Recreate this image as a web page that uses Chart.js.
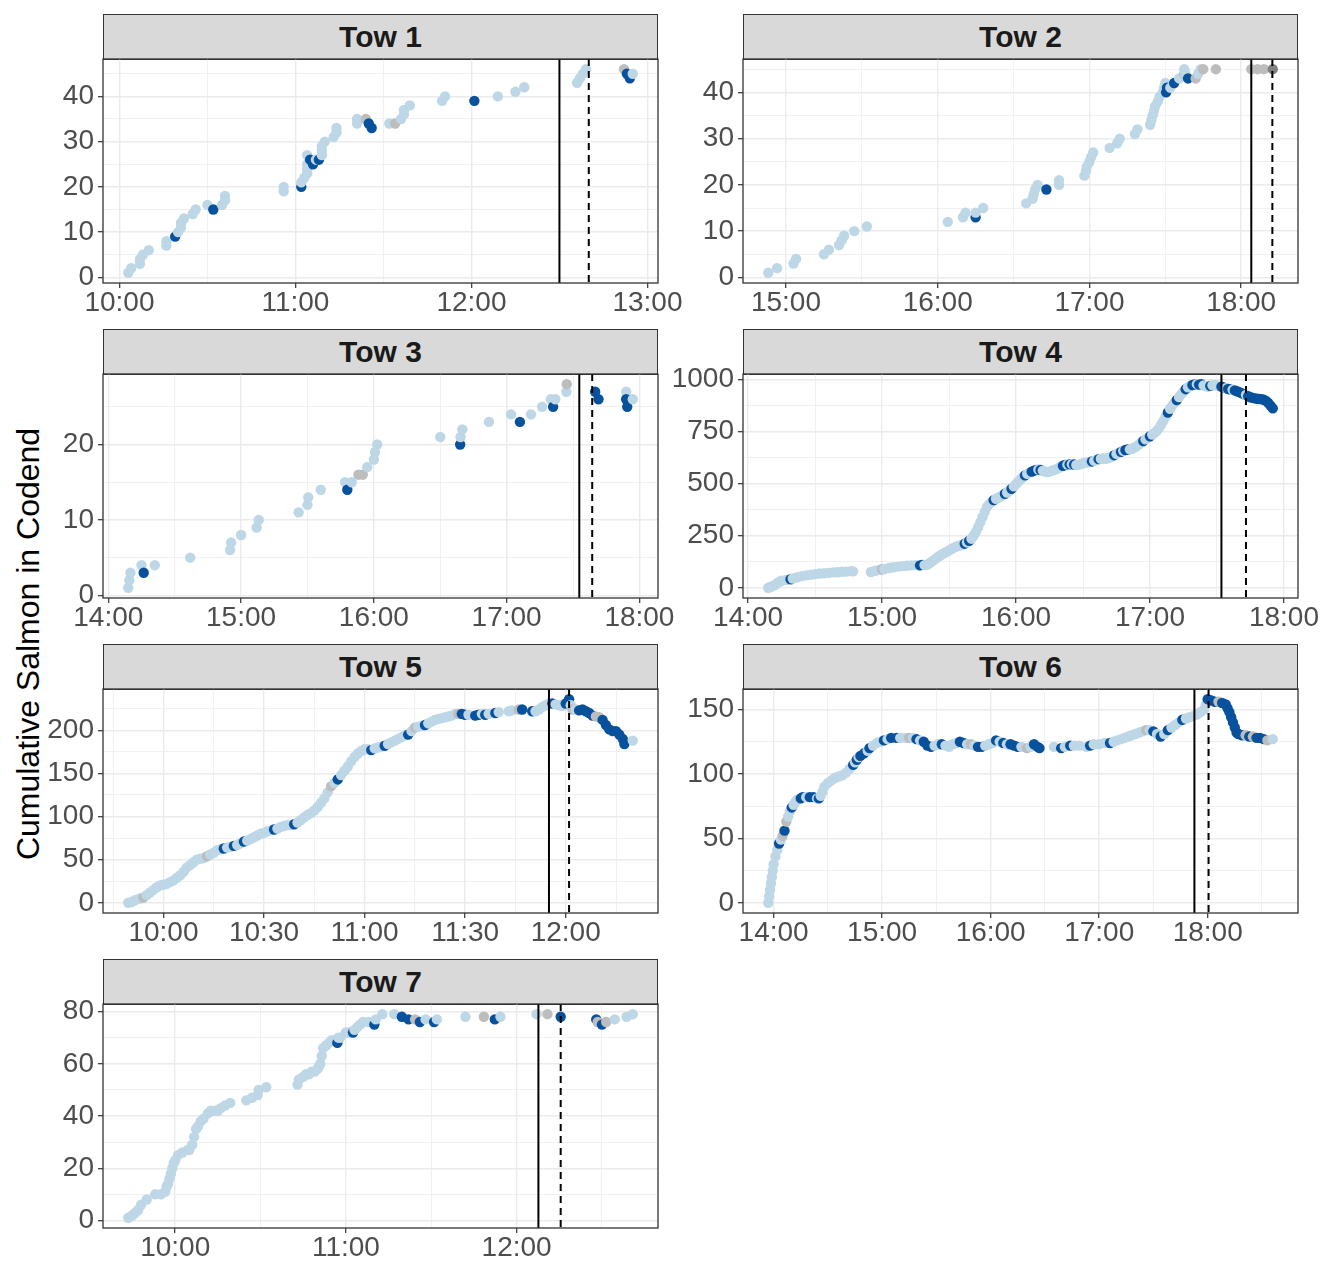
<!DOCTYPE html>
<html>
<head>
<meta charset="utf-8">
<title>Cumulative Salmon in Codend</title>
<script src="https://cdn.jsdelivr.net/npm/chart.js@4/dist/chart.umd.min.js"></script>
<style>
  html, body { margin: 0; padding: 0; background: #ffffff; overflow: hidden; }
  body { width: 1322px; height: 1262px; position: relative; font-family: "Liberation Sans", Arial, sans-serif; }
  .strip {
    position: absolute; box-sizing: border-box; border: 1.3px solid #333333;
    background: #D9D9D9; color: #1A1A1A; font-weight: bold; font-size: 30px;
    display: flex; align-items: center; justify-content: center;
  }
  canvas { position: absolute; }
  .ytitle {
    position: absolute; left: 28px; top: 644px; white-space: nowrap;
    font-size: 32px; color: #000000;
    transform: translate(-50%, -50%) rotate(-90deg);
  }
</style>
</head>
<body>
<div class="ytitle">Cumulative Salmon in Codend</div>
<script>
// ---- data: [clock time, cumulative count, category] per tow ----
// category: 0 = standard, 1 = flagged, 2 = uncertain, 3 = unresolved
const towNames = ['Tow 1', 'Tow 2', 'Tow 3', 'Tow 4', 'Tow 5', 'Tow 6', 'Tow 7'];

const tow1 = [
  ["10:03",1,0],["10:04",2,0],["10:07",3,0],["10:07",4,0],["10:08",5,0],["10:10",6,0],
  ["10:16",7,0],["10:16",8,0],["10:19",9,1],["10:20",10,0],["10:21",11,0],["10:21",12,0],
  ["10:22",13,0],["10:25",14,0],["10:26",15,0],["10:30",16,0],["10:32",15,1],["10:35",16,0],
  ["10:36",17,0],["10:36",18,0],["10:56",19,0],["10:56",20,0],["11:02",20,1],["11:02",21,0],
  ["11:03",22,0],["11:04",23,0],["11:04",24,0],["11:04",25,0],["11:04",27,0],["11:05",26,1],
  ["11:06",25,1],["11:07",26,0],["11:08",26,1],["11:09",27,0],["11:09",28,0],["11:09",29,0],
  ["11:10",30,0],["11:13",31,0],["11:14",32,0],["11:14",33,0],["11:21",34,0],["11:21",35,0],
  ["11:24",35,2],["11:25",34,1],["11:26",33,1],["11:32",34,0],["11:34",34,2],["11:36",35,0],
  ["11:37",36,0],["11:37",37,0],["11:39",38,0],["11:50",39,0],["11:51",40,0],["12:01",39,1],
  ["12:09",40,0],["12:15",41,0],["12:18",42,0],["12:36",43,0],["12:37",44,0],["12:38",45,0],
  ["12:39",46,0],["12:52",46,2],["12:53",45,1],["12:54",44,1],["12:55",45,0]
];

const tow2 = [
  ["14:53",1,0],["14:56:30",2,0],["15:03",3,0],["15:04",4,0],["15:15",5,0],["15:17",6,0],
  ["15:21",7,0],["15:22",8,0],["15:23",9,0],["15:27",10,0],["15:32",11,0],["16:04",12,0],
  ["16:10",13,0],["16:11",14,0],["16:15",13,1],["16:15",14,0],["16:18",15,0],["16:35",16,0],
  ["16:37:30",17,0],["16:38",18,0],["16:38:30",19,0],["16:39:30",20,0],["16:43",19,1],
  ["16:48",20,0],["16:48",21,0],["16:58",22,0],["16:58:40",23,0],["16:59",24,0],["17:00",25,0],
  ["17:00:40",26,0],["17:01:30",27,0],["17:08",28,0],["17:11",29,0],["17:12",30,0],["17:18",31,0],
  ["17:19",32,0],["17:24",33,0],["17:24:30",34,0],["17:25",35,0],["17:25:30",36,0],["17:26",37,0],
  ["17:27",38,0],["17:27:40",39,0],["17:29",40,0],["17:29:30",41,0],["17:30",42,0],
  ["17:30:20",40,1],["17:30:40",41,1],["17:32",41,0],["17:33:30",42,1],["17:35:30",43,0],
  ["17:37:30",44,2],["17:37:30",45,0],["17:38",44,0],["17:39",43,1],["17:42",43,2],
  ["17:43",44,0],["17:44",45,0],["17:45",45,2],["17:50",45,2],["18:04",45,2],["18:06:30",45,2],
  ["18:09",45,2],["18:12:30",45,3]
];

const tow3 = [
  ["14:09",1,0],["14:09:30",2,0],["14:10",3,0],["14:15",4,0],["14:16",3,1],["14:21",4,0],
  ["14:37",5,0],["14:55",6,0],["14:55:30",7,0],["15:00",8,0],["15:07",9,0],["15:08",10,0],
  ["15:26",11,0],["15:30",12,0],["15:30:20",13,0],["15:36",14,0],["15:47",15,0],["15:48",14,1],
  ["15:50",15,0],["15:53",16,2],["15:55",16,2],["15:57",17,0],["16:00",18,0],["16:00:30",19,0],
  ["16:01:30",20,0],["16:30",21,0],["16:39",20,1],["16:39:10",21,0],["16:40",22,0],["16:52",23,0],
  ["17:02",24,0],["17:06",23,1],["17:11",24,0],["17:16",25,0],["17:20",26,0],["17:21",25,1],
  ["17:22",26,0],["17:27",27,0],["17:27:10",28,2],["17:40",27,1],["17:41:30",26,1],
  ["17:54",27,0],["17:54",26,1],["17:54:30",25,1],["17:57",26,0]
];

const tow4 = [
  ["14:09",0,0],["14:10",4,0],["14:11",9,0],["14:12",14,0],["14:13",22,0],["14:14",29,0],
  ["14:15",34,0],["14:17",38,0],["14:19",41,1],["14:20",45,0],["14:22",51,0],["14:24",56,0],
  ["14:26",60,0],["14:28",63,0],["14:30",66,0],["14:32",69,0],["14:34",70,0],["14:36",72,0],
  ["14:38",74,0],["14:40",75,0],["14:42",77,0],["14:44",78,0],["14:46",80,0],["14:47",79,0],
  ["14:55",76,0],["14:57",82,0],["14:59",87,0],["15:00",89,2],["15:01",90,0],["15:03",95,0],
  ["15:05",99,0],["15:07",102,0],["15:09",104,0],["15:11",106,0],["15:13",108,0],["15:15",109,0],
  ["15:17",108,1],["15:18",110,1],["15:19",109,0],["15:20",111,0],["15:21",116,0],["15:22",124,0],
  ["15:23",132,0],["15:24",140,0],["15:25",148,0],["15:26",155,0],["15:27",162,0],["15:28",168,0],
  ["15:29",174,0],["15:30",180,0],["15:31",186,0],["15:32",192,0],["15:33",197,0],["15:34",201,0],
  ["15:35",204,0],["15:36",207,0],["15:37",212,1],["15:38",218,0],["15:39",226,1],["15:40",236,0],
  ["15:41",250,0],["15:42",268,0],["15:43",290,0],["15:44",315,0],["15:45",340,0],["15:46",365,0],
  ["15:47",388,0],["15:48",402,0],["15:49",413,0],["15:50",421,1],["15:51",428,0],["15:52",433,0],
  ["15:53",438,0],["15:54",445,0],["15:55",452,1],["15:56",458,0],["15:57",466,0],["15:58",476,1],
  ["15:59",487,0],["16:00",498,0],["16:01",510,0],["16:02",521,0],["16:03",531,0],["16:04",540,1],
  ["16:05",547,0],["16:06",553,0],["16:07",558,1],["16:08",563,1],["16:09",566,1],["16:10",568,0],
  ["16:11",566,1],["16:12",563,0],["16:13",558,0],["16:14",556,0],["16:15",558,0],["16:16",562,0],
  ["16:17",566,0],["16:18",570,0],["16:19",575,0],["16:20",581,0],["16:21",586,1],["16:22",590,1],
  ["16:23",592,0],["16:24",593,1],["16:25",594,0],["16:26",592,1],["16:27",590,0],["16:28",591,0],
  ["16:29",594,0],["16:30",598,0],["16:31",601,0],["16:32",603,0],["16:33",604,0],["16:34",607,1],
  ["16:35",610,0],["16:36",614,0],["16:37",618,1],["16:38",620,0],["16:39",621,0],["16:40",620,0],
  ["16:41",622,0],["16:42",626,0],["16:43",631,0],["16:44",637,1],["16:45",643,0],["16:46",648,0],
  ["16:47",653,1],["16:48",658,0],["16:49",662,1],["16:50",664,1],["16:51",665,0],["16:52",668,0],
  ["16:53",673,0],["16:54",680,0],["16:55",688,0],["16:56",697,0],["16:57",705,1],["16:58",713,0],
  ["16:59",720,0],["17:00",728,1],["17:01",736,0],["17:02",744,0],["17:03",753,0],["17:04",766,0],
  ["17:05",783,0],["17:06",802,0],["17:07",822,0],["17:08",842,1],["17:09",860,0],["17:10",876,0],
  ["17:11",889,0],["17:12",902,1],["17:13",916,0],["17:14",930,0],["17:15",943,0],["17:16",954,1],
  ["17:17",963,0],["17:18",970,0],["17:19",974,1],["17:20",977,1],["17:21",978,0],["17:22",976,1],
  ["17:23",978,1],["17:24",972,0],["17:25",968,0],["17:26",966,0],["17:27",970,1],["17:28",973,0],
  ["17:29",974,0],["17:30",972,0],["17:31",968,0],["17:32",966,1],["17:33",962,1],["17:34",959,0],
  ["17:35",955,1],["17:36",953,1],["17:37",951,0],["17:38",948,1],["17:39",944,1],["17:40",940,1],
  ["17:41",935,1],["17:42",930,1],["17:43",926,0],["17:44",920,1],["17:45",915,1],["17:46",912,1],
  ["17:47",910,1],["17:48",908,1],["17:49",907,1],["17:50",906,1],["17:51",903,1],["17:52",898,1],
  ["17:53",888,1],["17:54",875,1],["17:55",862,1]
];

const tow5 = [
  ["9:49:30",0,0],["9:50:30",1,0],["9:51:30",3,0],["9:53",5,0],["9:54",6,2],["9:55",9,0],
  ["9:56",12,0],["9:57",15,0],["9:58",18,0],["9:59",20,0],["10:00",21,0],["10:01",22,0],
  ["10:02",24,0],["10:03",26,0],["10:04",29,0],["10:05",32,0],["10:06",36,0],["10:07",41,0],
  ["10:08",44,0],["10:09",47,0],["10:10",50,0],["10:11",51,0],["10:12",52,0],["10:13",54,2],
  ["10:14",56,0],["10:15",58,0],["10:16",61,0],["10:17",62,0],["10:18",63,1],["10:19",64,0],
  ["10:20",65,0],["10:21",66,1],["10:22",67,0],["10:23",69,0],["10:24",71,1],["10:25",72,0],
  ["10:26",74,0],["10:27",76,0],["10:28",78,0],["10:29",80,0],["10:30",81,0],["10:31",83,0],
  ["10:32",84,0],["10:33",85,1],["10:34",86,0],["10:35",88,0],["10:36",89,0],["10:37",90,0],
  ["10:38",90,0],["10:39",91,1],["10:40",93,0],["10:41",96,0],["10:42",99,0],["10:43",102,0],
  ["10:44",104,0],["10:45",107,0],["10:46",111,0],["10:47",116,0],["10:48",121,0],["10:49",128,0],
  ["10:50",135,2],["10:51",139,0],["10:52",143,1],["10:53",148,0],["10:54",153,0],["10:55",158,0],
  ["10:56",164,0],["10:57",169,0],["10:58",173,0],["10:59",176,0],["11:00",178,0],["11:01",178,0],
  ["11:02",177,1],["11:03",179,0],["11:04",180,0],["11:05",181,0],["11:06",182,1],["11:07",184,0],
  ["11:08",186,0],["11:09",188,0],["11:10",190,0],["11:11",192,0],["11:12",194,0],["11:13",195,1],
  ["11:14",199,0],["11:15",203,2],["11:16",204,0],["11:17",205,0],["11:18",206,1],["11:19",208,0],
  ["11:20",210,0],["11:21",212,0],["11:22",213,0],["11:23",214,0],["11:24",215,0],["11:25",216,0],
  ["11:26",217,0],["11:27",219,0],["11:28",219,2],["11:29",219,1],["11:30",218,1],["11:31",218,0],
  ["11:33",217,1],["11:34",218,1],["11:35",219,0],["11:36",218,1],["11:37",219,0],["11:39",220,1],
  ["11:40",221,0],["11:43",222,0],["11:44",223,0],["11:46",224,2],["11:47",224,1],["11:50",222,1],
  ["11:51",222,0],["11:52",224,0],["11:53",227,0],["11:54",229,0],["11:55",231,0],["11:56",231,1],
  ["11:57",230,0],["11:58",229,0],["11:59",228,0],["12:00",231,1],["12:01",236,1],["12:01:30",229,0],
  ["12:02",224,2],["12:03",224,0],["12:04",223,1],["12:05",224,1],["12:06",222,1],["12:07",220,1],
  ["12:08",217,1],["12:09",216,2],["12:10",215,2],["12:11",212,1],["12:12",206,1],["12:13",201,1],
  ["12:14",199,1],["12:15",199,1],["12:16",195,1],["12:17",190,1],["12:17:30",184,1],["12:20",188,0]
];

const tow6 = [
  ["13:57",0,0],["13:57:30",5,0],["13:58",10,0],["13:58:30",15,0],["13:59",20,0],["13:59:30",25,0],
  ["14:00",30,0],["14:01",36,0],["14:02",41,0],["14:03",46,1],["14:04",49,0],["14:05",52,2],
  ["14:06",56,1],["14:07",63,2],["14:08",67,0],["14:09",71,0],["14:10",74,1],["14:11",76,0],
  ["14:12",78,0],["14:13",80,0],["14:15",81,1],["14:16",82,1],["14:18",82,0],["14:20",82,1],
  ["14:22",82,1],["14:24",81,0],["14:25",81,1],["14:26",83,0],["14:27",86,0],["14:28",90,0],
  ["14:30",93,0],["14:32",95,0],["14:34",97,0],["14:36",98,0],["14:38",99,0],["14:40",101,0],
  ["14:42",104,0],["14:44",107,1],["14:45",109,0],["14:46",111,1],["14:47",113,0],["14:48",114,1],
  ["14:50",116,1],["14:52",118,0],["14:53",120,1],["14:55",122,0],["14:57",124,0],["14:59",125,0],
  ["15:01",126,1],["15:03",127,0],["15:05",128,1],["15:08",128,1],["15:10",128,0],["15:13",128,0],
  ["15:15",128,2],["15:17",128,0],["15:19",127,1],["15:21",126,0],["15:23",125,1],["15:25",122,1],
  ["15:27",121,1],["15:29",122,0],["15:31",123,0],["15:33",123,1],["15:35",122,0],["15:37",121,0],
  ["15:39",123,0],["15:41",124,0],["15:43",125,1],["15:45",124,1],["15:47",123,0],["15:49",123,2],
  ["15:51",122,0],["15:53",121,1],["15:55",121,1],["15:57",122,0],["15:59",123,0],["16:01",124,0],
  ["16:03",126,1],["16:05",125,0],["16:07",124,1],["16:09",123,0],["16:11",123,1],["16:13",122,1],
  ["16:15",121,1],["16:17",121,0],["16:20",120,2],["16:22",121,0],["16:24",123,1],["16:26",121,1],
  ["16:27",120,1],["16:35",121,0],["16:39",120,1],["16:41",121,0],["16:44",122,1],["16:46",122,0],
  ["16:49",122,0],["16:53",121,0],["16:55",122,1],["16:57",123,0],["17:00",123,0],["17:03",124,0],
  ["17:06",124,1],["17:08",125,0],["17:10",126,0],["17:12",127,0],["17:14",128,0],["17:16",129,0],
  ["17:18",130,0],["17:20",131,0],["17:22",132,0],["17:24",133,0],["17:26",134,2],["17:28",134,0],
  ["17:30",133,1],["17:32",131,0],["17:34",129,1],["17:36",131,0],["17:38",134,1],["17:40",136,0],
  ["17:42",138,0],["17:44",140,0],["17:46",142,1],["17:48",143,0],["17:50",144,0],["17:52",145,0],
  ["17:54",146,0],["17:56",148,0],["17:58",150,0],["17:59",154,0],["18:00",158,1],["18:02",157,1],
  ["18:04",156,1],["18:06",156,2],["18:08",155,1],["18:10",154,1],["18:11",151,1],["18:12",148,1],
  ["18:13",144,1],["18:14",140,1],["18:15",136,1],["18:16",132,1],["18:17",131,1],["18:19",130,1],
  ["18:21",130,2],["18:23",129,1],["18:25",129,2],["18:27",128,1],["18:29",128,1],["18:31",127,1],
  ["18:33",126,2],["18:36",127,0]
];

const tow7 = [
  ["9:43:30",1,0],["9:45",2,0],["9:46",3,0],["9:47",4,0],["9:48",6,0],["9:50",8,0],["9:53",10,0],
  ["9:55",10,0],["9:56:30",11,0],["9:57",13,0],["9:57:30",14,0],["9:58",16,0],["9:58:30",18,0],
  ["9:59",20,0],["9:59:30",22,0],["10:00",23,0],["10:01",25,0],["10:02:30",26,0],["10:04:30",27,0],
  ["10:05",27,0],["10:06",29,0],["10:06:40",32,0],["10:07:20",35,0],["10:08",36,0],["10:09",38,0],
  ["10:10",39,0],["10:11:30",41,0],["10:12:30",42,0],["10:14",42,0],["10:15",42,0],["10:16",43,0],
  ["10:17:30",44,0],["10:19:20",45,0],["10:25",46,0],["10:27",47,0],["10:29",48,0],["10:29:20",50,0],
  ["10:32",51,0],["10:43",52,0],["10:43:30",54,0],["10:45",55,0],["10:46",56,0],["10:47",56,0],
  ["10:48",57,0],["10:49",57,0],["10:50",58,0],["10:50:30",59,0],["10:51",60,0],["10:51:30",63,0],
  ["10:52",66,0],["10:53",67,0],["10:54",68,0],["10:55",69,0],["10:57",68,1],["10:57:20",70,0],
  ["10:58",70,0],["11:00",72,0],["11:01",72,0],["11:02:30",72,1],["11:03",73,0],["11:04",74,0],
  ["11:05",75,0],["11:06",76,0],["11:08",76,0],["11:10",75,1],["11:10:30",77,0],["11:12:50",79,0],
  ["11:17",79,0],["11:19:40",78,1],["11:22",77,1],["11:24:20",77,2],["11:26",76,1],["11:28",77,0],
  ["11:31",76,1],["11:32",77,0],["11:42",78,0],["11:48:30",78,2],["11:52:20",77,1],["11:54:20",78,0],
  ["12:07",79,0],["12:10:50",79,2],["12:15:30",78,1],["12:28",77,1],["12:28:30",76,2],["12:30",75,1],
  ["12:31:30",76,2],["12:34:30",77,0],["12:38:40",78,0],["12:40:50",79,0]
];

const towData = [tow1, tow2, tow3, tow4, tow5, tow6, tow7];

// axis breaks for each tow
const xTickLabels = [
  ["10:00","11:00","12:00","13:00"],
  ["15:00","16:00","17:00","18:00"],
  ["14:00","15:00","16:00","17:00","18:00"],
  ["14:00","15:00","16:00","17:00","18:00"],
  ["10:00","10:30","11:00","11:30","12:00"],
  ["14:00","15:00","16:00","17:00","18:00"],
  ["10:00","11:00","12:00"]
];
const yTickValues = [
  [0,10,20,30,40],
  [0,10,20,30,40],
  [0,10,20],
  [0,250,500,750,1000],
  [0,50,100,150,200],
  [0,50,100,150],
  [0,20,40,60,80]
];

// reference times drawn as vertical rules (solid, then dashed)
const markStart = ["12:30","18:04","17:32:50","17:32","11:55","17:52:40","12:07:40"];
const markEnd   = ["12:40","18:12:20","17:38:40","17:43","12:01","18:00:30","12:15:30"];

// ---- drawing ----
const palette = ['#BDD7E7', '#08519C', '#BDBDBD', '#808080'];
const FONT = '"Liberation Sans", Arial, sans-serif';

function toMinutes(t) {
  const p = t.split(':').map(Number);
  return p[0] * 60 + p[1] + (p[2] || 0) / 60;
}
function clock(m) {
  const h = Math.floor(m / 60 + 1e-9);
  const mm = Math.round(m - h * 60);
  return String(h).padStart(2, '0') + ':' + String(mm).padStart(2, '0');
}
function expand(lo, hi) {
  const d = hi - lo;
  return [lo - 0.05 * d, hi + 0.05 * d];
}
// major breaks plus half-step minor breaks that fall inside the limits
function buildTicks(major, lo, hi) {
  const step = major[1] - major[0];
  const out = [];
  major.forEach(v => { if (v >= lo && v <= hi) out.push({ value: v, minor: false }); });
  for (let v = major[0] - step / 2; v <= major[major.length - 1] + step / 2 + 1e-9; v += step) {
    if (v >= lo && v <= hi) out.push({ value: v, minor: true });
  }
  out.sort((a, b) => a.value - b.value);
  return out;
}

const colLeft = [103, 743];
const rowStripTop = [14, 329, 644, 959];
const PANEL_W = 555, PANEL_H = 224, STRIP_H = 45;
const PAD_L = 100, PAD_T = 24, PAD_R = 36, PAD_B = 50;

function gridOpts() {
  return {
    color: '#EBEBEB',
    lineWidth: c => (c.tick && c.tick.minor ? 0.7 : 1.4),
    drawTicks: true,
    tickLength: 5,
    tickWidth: 1.2,
    tickColor: c => (c.tick && c.tick.minor ? 'rgba(0,0,0,0)' : '#333333')
  };
}

towData.forEach((rows, i) => {
  const col = i % 2, row = Math.floor(i / 2);
  const left = colLeft[col];
  const stripTop = rowStripTop[row];
  const panelTop = stripTop + STRIP_H;

  const strip = document.createElement('div');
  strip.className = 'strip';
  strip.style.left = left + 'px';
  strip.style.top = stripTop + 'px';
  strip.style.width = PANEL_W + 'px';
  strip.style.height = (STRIP_H + 1) + 'px';
  strip.textContent = towNames[i];
  document.body.appendChild(strip);

  const canvas = document.createElement('canvas');
  const cw = PAD_L + PANEL_W + PAD_R, ch = PAD_T + PANEL_H + PAD_B;
  canvas.width = cw; canvas.height = ch;
  canvas.style.width = cw + 'px'; canvas.style.height = ch + 'px';
  canvas.style.left = (left - PAD_L) + 'px';
  canvas.style.top = (panelTop - PAD_T) + 'px';
  document.body.appendChild(canvas);

  const pts = rows.map(r => ({ x: toMinutes(r[0]), y: r[1] }));
  const cols = rows.map(r => palette[r[2]]);
  const tStart = toMinutes(markStart[i]), tEnd = toMinutes(markEnd[i]);
  const xs = pts.map(p => p.x).concat([tStart, tEnd]);
  const ys = pts.map(p => p.y);
  const [xMin, xMax] = expand(Math.min(...xs), Math.max(...xs));
  const [yMin, yMax] = expand(Math.min(...ys), Math.max(...ys));
  const xMajor = xTickLabels[i].map(toMinutes);
  const yMajor = yTickValues[i];

  const decor = {
    id: 'panelDecor',
    afterDatasetsDraw(chart) {
      const { ctx, chartArea: a, scales: { x } } = chart;
      ctx.save();
      ctx.beginPath();
      ctx.rect(a.left, a.top, a.width, a.height);
      ctx.clip();
      ctx.strokeStyle = '#000000';
      ctx.lineWidth = 2;
      [[tStart, []], [tEnd, [7, 5]]].forEach(([v, dash]) => {
        const px = x.getPixelForValue(v);
        ctx.setLineDash(dash);
        ctx.beginPath();
        ctx.moveTo(px, a.top);
        ctx.lineTo(px, a.bottom);
        ctx.stroke();
      });
      ctx.restore();
      ctx.save();
      ctx.strokeStyle = '#333333';
      ctx.lineWidth = 1.3;
      ctx.strokeRect(a.left, a.top, a.width, a.height);
      ctx.restore();
    }
  };

  new Chart(canvas, {
    type: 'scatter',
    data: {
      datasets: [{
        data: pts,
        backgroundColor: cols,
        borderWidth: 0,
        pointRadius: 5.2,
        pointHoverRadius: 5.2
      }]
    },
    options: {
      responsive: false,
      animation: false,
      events: [],
      layout: { padding: { left: 0, top: PAD_T, right: PAD_R, bottom: 0 } },
      plugins: { legend: { display: false }, tooltip: { enabled: false } },
      scales: {
        x: {
          type: 'linear', min: xMin, max: xMax,
          afterFit: s => { s.height = PAD_B; },
          afterBuildTicks: s => { s.ticks = buildTicks(xMajor, xMin, xMax); },
          ticks: {
            autoSkip: false, maxRotation: 0, minRotation: 0, padding: -2,
            color: '#4D4D4D', font: { family: FONT, size: 28 },
            callback: (v, idx, ticks) => (ticks[idx].minor ? '' : clock(v))
          },
          grid: gridOpts(),
          border: { display: false }
        },
        y: {
          type: 'linear', min: yMin, max: yMax,
          afterFit: s => { s.width = PAD_L; },
          afterBuildTicks: s => { s.ticks = buildTicks(yMajor, yMin, yMax); },
          ticks: {
            autoSkip: false, padding: 4,
            color: '#4D4D4D', font: { family: FONT, size: 28 },
            callback: (v, idx, ticks) => (ticks[idx].minor ? '' : String(v))
          },
          grid: gridOpts(),
          border: { display: false }
        }
      }
    },
    plugins: [decor]
  });
});
</script>
</body>
</html>
